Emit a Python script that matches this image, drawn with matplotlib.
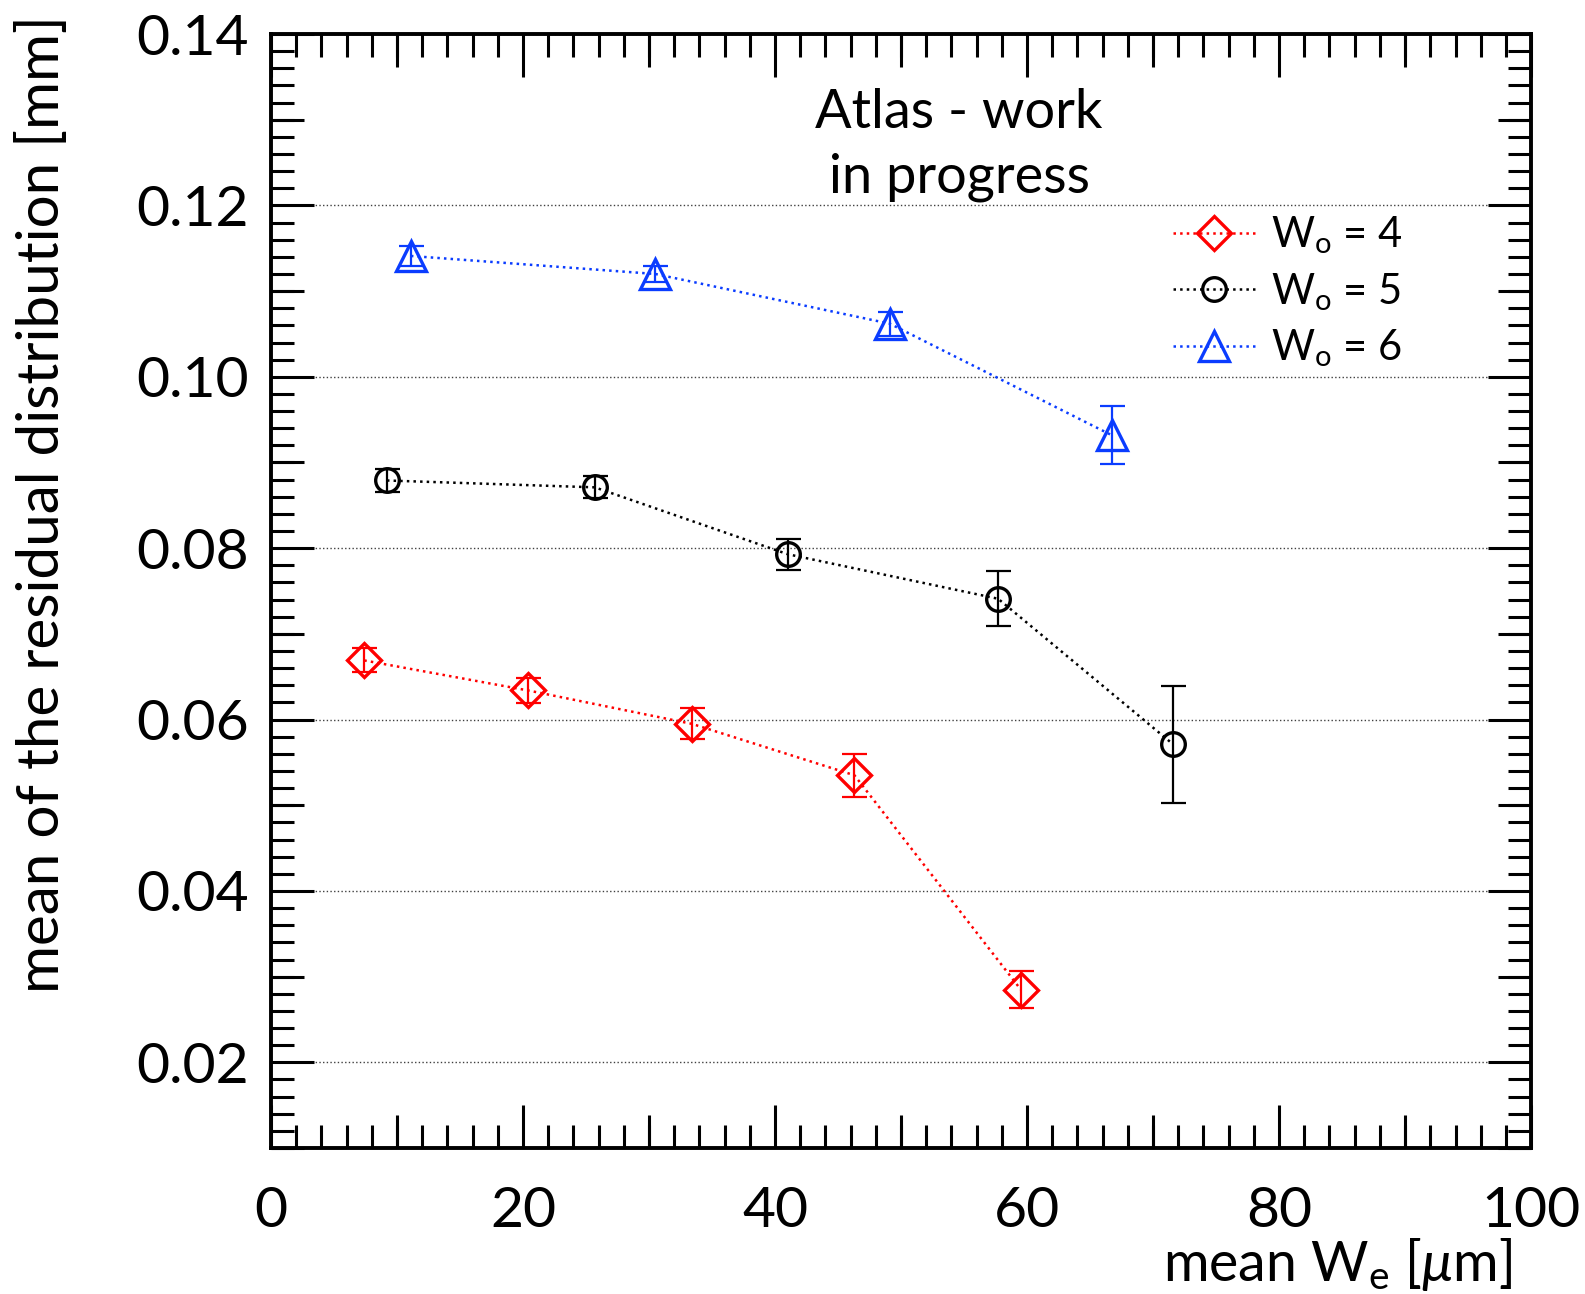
import numpy as np
import matplotlib
matplotlib.use("Agg")
import matplotlib.pyplot as plt

plt.rcParams['font.family'] = ['Lato', 'DejaVu Sans']
plt.rcParams['mathtext.fontset'] = 'custom'
plt.rcParams['mathtext.rm'] = 'Lato'
plt.rcParams['mathtext.it'] = 'Lato:italic'

# W_o = 4
x4 = [7.4, 20.4, 33.4, 46.3, 59.5]
y4 = [0.0669, 0.0634, 0.0595, 0.0535, 0.0285]
e4 = [0.0014, 0.0015, 0.0018, 0.0025, 0.0022]
# W_o = 5
x5 = [9.2, 25.7, 41.0, 57.7, 71.6]
y5 = [0.0879, 0.0871, 0.0793, 0.0741, 0.0571]
e5 = [0.0013, 0.0013, 0.0018, 0.0032, 0.0068]
# W_o = 6
x6 = [11.1, 30.5, 49.1, 66.7]
y6 = [0.1141, 0.1120, 0.1062, 0.0932]
e6 = [0.0012, 0.0009, 0.0014, 0.0034]

fig = plt.figure(figsize=(15.85, 12.94), dpi=100)
pos = [0.171, 0.1128, 0.795, 0.8609]
ax = fig.add_axes(pos)

series = [
    (x4, y4, e4, 'red', 'D', 17, r'W$_\mathrm{o}$ = 4'),
    (x5, y5, e5, 'black', 'o', 17, r'W$_\mathrm{o}$ = 5'),
    (x6, y6, e6, '#0a3cff', '^', 22, r'W$_\mathrm{o}$ = 6'),
]
handles = []
for xs, ys, es, c, m, ms, lab in series:
    ax.errorbar(xs, ys, yerr=es, fmt='none', ecolor=c, elinewidth=1.6,
                capsize=9, capthick=1.6, zorder=3)
    h, = ax.plot(xs, ys, linestyle=':', color=c, lw=1.8, marker=m, ms=ms,
                 mfc='none', mec=c, mew=2.4, label=lab, zorder=4)
    handles.append(h)

ax.set_xlim(0, 100)
ax.set_ylim(0.01, 0.14)
ax.set_xticks(np.arange(0, 101, 20))
ax.set_xticks(np.arange(0, 101, 2), minor=True)
ax.set_yticks(np.arange(0.02, 0.141, 0.02))
ax.set_yticks(np.arange(0.01, 0.1401, 0.002), minor=True)
ax.set_yticklabels(['%.2f' % v for v in np.arange(0.02, 0.141, 0.02)])
ax.tick_params(which='both', direction='in', top=True, right=True, width=2.2)
ax.tick_params(which='major', length=31, labelsize=41)
ax.tick_params(axis='x', which='major', pad=27)
ax.tick_params(axis='y', which='major', pad=16)
ax.tick_params(which='minor', length=16.5)
for sp in ax.spines.values():
    sp.set_linewidth(2.8)
ax.yaxis.grid(True, which='major', linestyle=':', color='0.25', lw=1.0)

# medium ticks (half steps), separate overlay axes
axm = fig.add_axes(pos, frameon=False)
axm.patch.set_visible(False)
axm.set_xlim(0, 100)
axm.set_ylim(0.01, 0.14)
axm.set_xticks(np.arange(10, 100, 20))
axm.set_yticks(np.arange(0.01, 0.141, 0.02))
axm.tick_params(which='major', direction='in', top=True, right=True, length=24,
                width=2.2, labelbottom=False, labelleft=False)
axm.minorticks_off()

ax.set_ylabel('mean of the residual distribution [mm]', fontsize=42)
ax.yaxis.set_label_coords(-0.16, 0.578)
ax.set_xlabel(r'mean W$_\mathrm{e}$ [$\mu$m]', fontsize=40, ha='right', va='top')
ax.xaxis.set_label_coords(0.985, -0.079)

ax.text(0.546, 0.930, 'Atlas - work', transform=ax.transAxes,
        ha='center', va='center', fontsize=39)
ax.text(0.546, 0.871, 'in progress', transform=ax.transAxes,
        ha='center', va='center', fontsize=39)

leg = ax.legend(handles=handles, loc='upper left', bbox_to_anchor=(0.694, 0.862),
                fontsize=30, frameon=True, framealpha=1, edgecolor='none',
                handlelength=2.0, labelspacing=0.35, handletextpad=0.35,
                borderpad=0.15, fancybox=False)
leg.set_zorder(5)

fig.savefig('out.png', dpi=100)
